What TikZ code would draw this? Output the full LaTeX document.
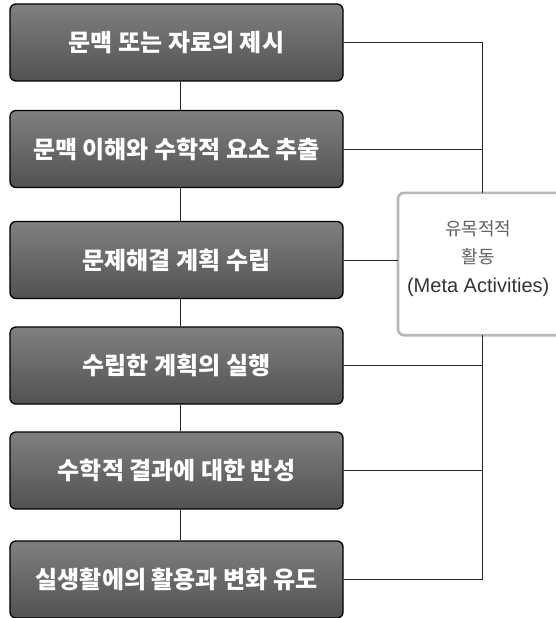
\documentclass[tikz,border=0pt]{standalone}
\usepackage{fontspec}
\setmainfont{Liberation Sans}
\newfontfamily\kr{Noto Sans CJK KR}
\begin{document}
\begin{tikzpicture}[x=1bp,y=-1bp,
  stepbox/.style={draw=black, line width=1.3bp, rounded corners=6bp,
    minimum width=333bp, minimum height=77bp,
    top color=black!50, bottom color=black!68, text=white,
    font=\kr\bfseries\fontsize{24bp}{28bp}\selectfont, inner sep=0pt},
  metabox/.style={draw=none, fill=white, minimum width=158bp,
    minimum height=142bp, inner sep=0pt},
  metaborder/.style={draw=black!28, line width=2.6bp, rounded corners=6bp},
  metatxt/.style={align=center, font=\fontsize{20bp}{28.5bp}\selectfont, inner sep=0pt},
  link/.style={draw=black!85, line width=0.9bp}]
\useasboundingbox (0,0) rectangle (556,618);
\node[stepbox] (b1) at (176.5,42.5) {문맥 또는 자료의 제시};
\node[stepbox] (b2) at (176.5,149) {문맥 이해와 수학적 요소 추출};
\node[stepbox] (b3) at (176.5,260) {문제해결 계획 수립};
\node[stepbox] (b4) at (176.5,365.5) {수립한 계획의 실행};
\node[stepbox] (b5) at (176.5,470.5) {수학적 결과에 대한 반성};
\node[stepbox] (b6) at (176.5,579.5) {실생활에의 활용과 변화 유도};
\node[metabox, anchor=west] (meta) at (398,264) {};
\draw[metaborder] (meta.north east) -- (meta.north west)
  -- (meta.south west) -- (meta.south east);
\coordinate (mtop) at ([xshift=5bp]meta.north);
\coordinate (mbot) at ([xshift=5bp]meta.south);
\node[metatxt] (mt) at ([xshift=1bp,yshift=5.5bp]meta.center)
  {{\kr\fontsize{18bp}{28.5bp}\selectfont\color{black!62}유목적적}\\
   {\kr\fontsize{18bp}{28.5bp}\selectfont\color{black!62}활동}\\
   {\color{black!80}(Meta Activities)}};
% vertical chain
\foreach \a/\b in {b1/b2,b2/b3,b3/b4,b4/b5,b5/b6}
  \draw[link] ([xshift=3.5bp]\a.south) -- ([xshift=3.5bp]\b.north);
% links to meta box
\draw[link] (b1.east) -| (mtop);
\draw[link] (b2.east) -- (b2.east -| mtop);
\draw[link] (b3.east) -- (b3.east -| meta.west);
\draw[link] (b4.east) -- (b4.east -| mbot);
\draw[link] (b5.east) -- (b5.east -| mbot);
\draw[link] (b6.east) -| (mbot);
\end{tikzpicture}
\end{document}
